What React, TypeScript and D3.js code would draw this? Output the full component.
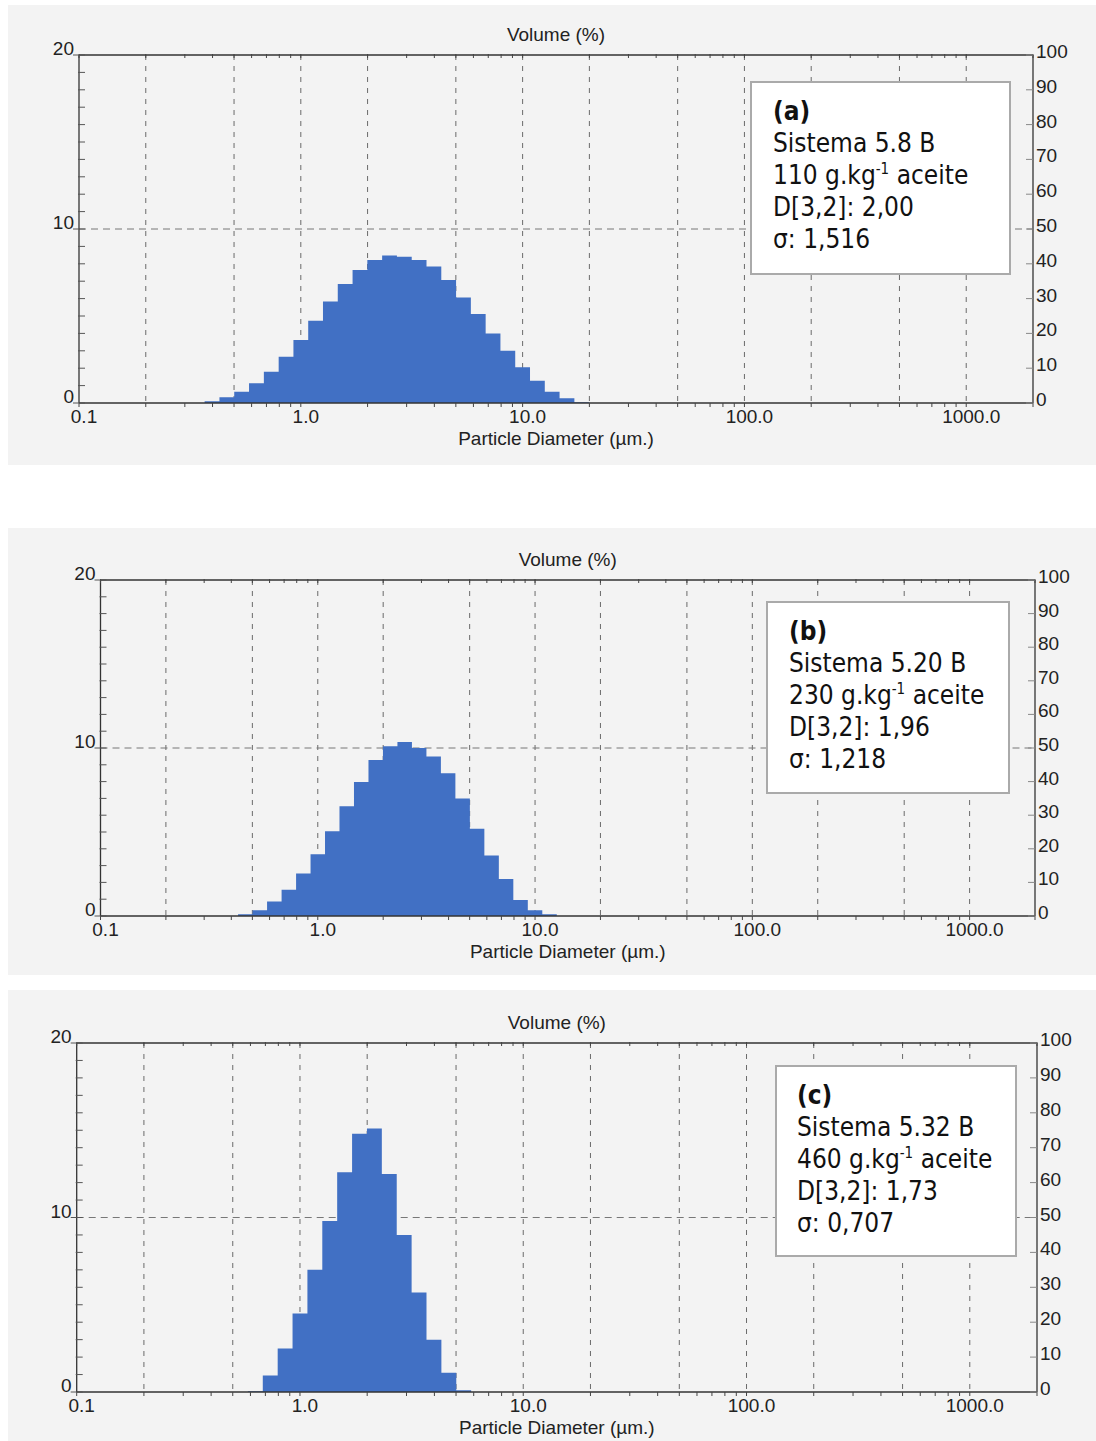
import * as d3 from "d3";

// particle size classes (µm), bin centres
const sizeClasses = [
  0.293, 0.341, 0.398, 0.464, 0.541, 0.631, 0.736, 0.858, 1.0, 1.166,
  1.359, 1.585, 1.848, 2.154, 2.512, 2.929, 3.415, 3.981, 4.642, 5.412,
  6.31, 7.356, 8.577, 10.0, 11.66, 13.59, 15.85, 18.48, 21.54
];

// volume (%) per size class
const volumeA = [
  0, 0, 0.1, 0.33, 0.65, 1.13, 1.8, 2.66, 3.62, 4.73,
  5.84, 6.84, 7.64, 8.22, 8.47, 8.4, 8.22, 7.84, 7.07, 6.07,
  5.11, 4.0, 3.0, 2.05, 1.28, 0.65, 0.27, 0.04, 0
];
const volumeB = [
  0, 0, 0, 0.1, 0.34, 0.87, 1.56, 2.53, 3.68, 5.05,
  6.53, 7.98, 9.29, 10.1, 10.36, 10.0, 9.5, 8.5, 7.0, 5.2,
  3.6, 2.2, 0.95, 0.34, 0.1, 0, 0, 0, 0
];
const volumeC = [
  0, 0, 0, 0, 0, 0.05, 0.95, 2.5, 4.5, 7.0,
  9.8, 12.6, 14.8, 15.1, 12.5, 9.0, 5.7, 3.0, 1.1, 0.1,
  0, 0, 0, 0, 0, 0, 0, 0, 0
];

const gridSizes = [0.2, 0.5, 1, 2, 5, 10, 20, 50, 100, 200, 500, 1000];
const xTickValues = [0.1, 1, 10, 100, 1000];
const xTickLabels = ["0.1", "1.0", "10.0", "100.0", "1000.0"];
const leftTicks = [0, 10, 20];
const rightTicks = [0, 10, 20, 30, 40, 50, 60, 70, 80, 90, 100];

const labelsA = ["(a)", "Sistema 5.8 B", "110", "D[3,2]: 2,00", "σ: 1,516"];
const labelsB = ["(b)", "Sistema 5.20 B", "230", "D[3,2]: 1,96", "σ: 1,218"];
const labelsC = ["(c)", "Sistema 5.32 B", "460", "D[3,2]: 1,73", "σ: 0,707"];

const axisFont = "'Liberation Sans', Arial, sans-serif";
const boxFont = "'DejaVu Sans Condensed', 'DejaVu Sans', sans-serif";
const fillBlue = "#4170c4";

function Panel({ bg, left, right, top, bottom, box, volume, labels }: any) {
  const x = d3.scaleLog([0.1, 2000], [left, right]);
  const y = d3.scaleLinear([0, 20], [bottom, top]);
  const yr = d3.scaleLinear([0, 100], [bottom, top]);

  const data = sizeClasses.map((s, i) => ({ size: s, v: volume[i] }));
  const area = d3.area<any>()
    .x(d => x(d.size))
    .y0(y(0))
    .y1(d => y(d.v))
    .curve(d3.curveStep);

  const minorX = x.ticks().filter(v => v >= 0.1 && v <= 2000);
  const minorY = d3.range(0, 21);
  const cx = (left + right) / 2;

  return (
    <g>
      <rect x={bg.x} y={bg.y} width={bg.w} height={bg.h} fill="#f3f3f3" />

      {/* grid */}
      {gridSizes.map(s => (
        <line key={s} x1={x(s)} x2={x(s)} y1={top} y2={bottom}
          stroke="#6a6a6a" strokeWidth={1} strokeDasharray="5,6" />
      ))}
      <line x1={left} x2={right} y1={y(10)} y2={y(10)}
        stroke="#777" strokeWidth={1} strokeDasharray="7,5" />

      <path d={area(data) || ""} fill={fillBlue} />

      {/* frame */}
      <line x1={left} x2={right} y1={top} y2={top} stroke="#333" strokeWidth={1.3} />
      <line x1={left} x2={right} y1={bottom} y2={bottom} stroke="#333" strokeWidth={1.3} />
      <line x1={left} x2={left} y1={top} y2={bottom} stroke="#333" strokeWidth={1.3} />
      <line x1={right} x2={right} y1={top} y2={bottom} stroke="#333" strokeWidth={1.3} />

      {/* x minor ticks top and bottom */}
      {minorX.map((v, i) => (
        <g key={i}>
          <line x1={x(v)} x2={x(v)} y1={bottom} y2={bottom + 4} stroke="#444" />
          <line x1={x(v)} x2={x(v)} y1={top - 1} y2={top + 3} stroke="#444" />
        </g>
      ))}

      {/* left minor ticks */}
      {minorY.map(v => (
        <line key={v} x1={v % 10 === 0 ? left - 6 : left - 1} x2={left + 6}
          y1={y(v)} y2={y(v)} stroke="#555" />
      ))}

      {/* right ticks */}
      {rightTicks.map(v => (
        <line key={v} x1={right - 7} x2={right} y1={yr(v)} y2={yr(v)} stroke="#888" />
      ))}

      <g fontFamily={axisFont} fontSize={19} fill="#222">
        {leftTicks.map(v => (
          <text key={v} x={left - 5} y={y(v)} textAnchor="end">{v}</text>
        ))}
        {rightTicks.map(v => (
          <text key={v} x={right + 3} y={yr(v) + 3}>{v}</text>
        ))}
        {xTickValues.map((v, i) => (
          <text key={v} x={x(v) + 5} y={bottom + 20} textAnchor="middle">{xTickLabels[i]}</text>
        ))}
        <text x={cx} y={top - 14} textAnchor="middle">Volume (%)</text>
        <text x={cx} y={bottom + 42} textAnchor="middle">Particle Diameter (µm.)</text>
      </g>

      {/* annotation box */}
      <rect x={box.x} y={box.y} width={box.w} height={box.h}
        fill="#fff" stroke="#aaa" strokeWidth={2} />
      <g fontFamily={boxFont} fontStretch="condensed" fontSize={26} fill="#111">
        <text x={box.tx} y={box.ty} fontWeight="bold">{labels[0]}</text>
        <text x={box.tx} y={box.ty + 32}>{labels[1]}</text>
        <text x={box.tx} y={box.ty + 64}>
          {labels[2]} g.kg
          <tspan fontSize={15} dy={-10}>-1</tspan>
          <tspan dy={10}> aceite</tspan>
        </text>
        <text x={box.tx} y={box.ty + 96}>{labels[3]}</text>
        <text x={box.tx} y={box.ty + 128}>{labels[4]}</text>
      </g>
    </g>
  );
}

export default function App() {
  return (
    <svg width={1096} height={1441}
      style={{ position: "absolute", left: 0, top: 0, background: "#fff" }}>
      <Panel
        bg={{ x: 8, y: 5, w: 1088, h: 460 }}
        left={79} right={1033} top={55} bottom={403}
        box={{ x: 751, y: 82, w: 259, h: 192, tx: 773, ty: 120 }}
        volume={volumeA} labels={labelsA} />
      <Panel
        bg={{ x: 8, y: 528, w: 1088, h: 447 }}
        left={100.5} right={1035} top={580} bottom={916}
        box={{ x: 767, y: 602, w: 242, h: 191, tx: 789, ty: 640 }}
        volume={volumeB} labels={labelsB} />
      <Panel
        bg={{ x: 8, y: 990, w: 1088, h: 451 }}
        left={76.7} right={1037} top={1043} bottom={1392}
        box={{ x: 776, y: 1066, w: 240, h: 190, tx: 797, ty: 1104 }}
        volume={volumeC} labels={labelsC} />
    </svg>
  );
}
